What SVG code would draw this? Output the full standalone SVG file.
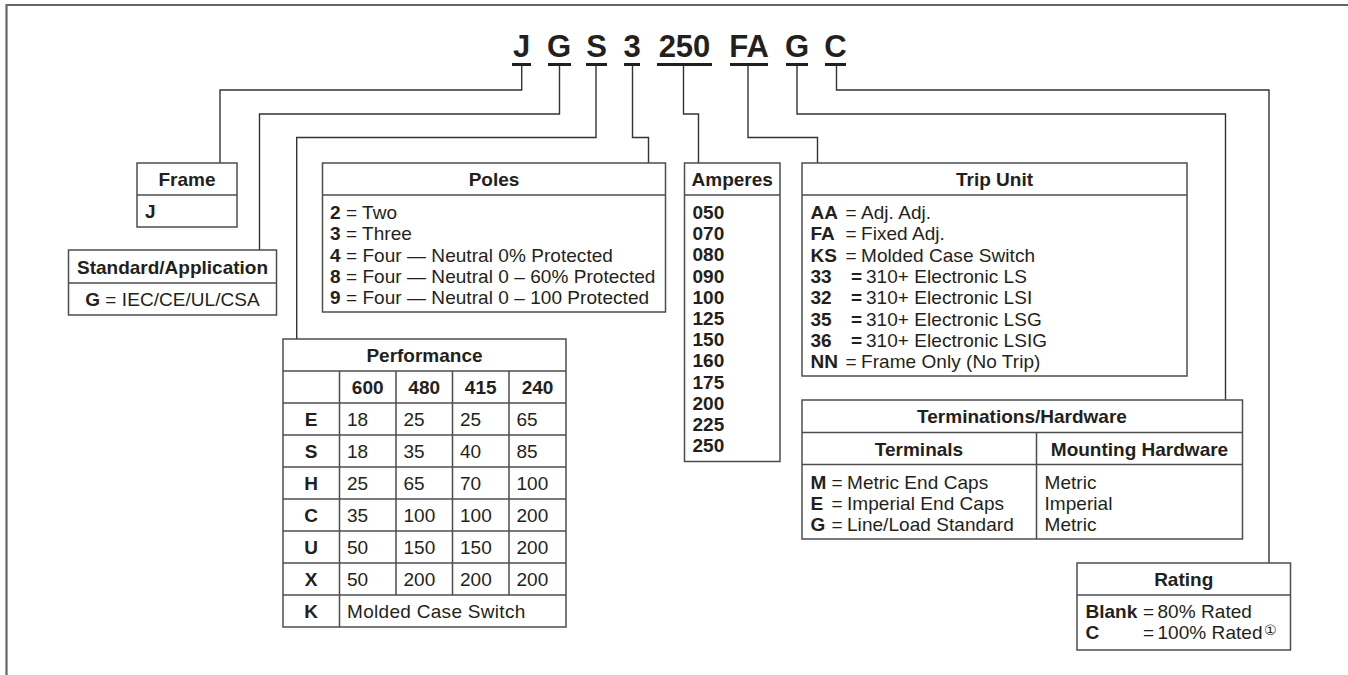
<svg xmlns="http://www.w3.org/2000/svg" width="1348" height="675" viewBox="0 0 1348 675">
<style>
.box{fill:#fff;stroke:#4d4d4d;stroke-width:1.5}
.dv{stroke:#4d4d4d;stroke-width:1.5;fill:none}
.con{stroke:#333;stroke-width:1.4;fill:none}
.h{font-family:"Liberation Sans",Arial,sans-serif;font-size:19px;font-weight:bold;fill:#231f20;text-anchor:middle}
.t{font-family:"Liberation Sans",Arial,sans-serif;font-size:19px;fill:#231f20;letter-spacing:0.05px}
.b{font-weight:bold;letter-spacing:0}
.c{text-anchor:middle}
.code{font-family:"Liberation Sans",Arial,sans-serif;font-size:31px;font-weight:bold;fill:#231f20;text-anchor:middle}
.ul{stroke:#231f20;stroke-width:3}
</style>
<path d="M6.5,675 V5 H1348" fill="none" stroke="#666" stroke-width="2.2"/>

<g id="code">
<text class="code" x="521.5" y="57">J</text>
<text class="code" x="559" y="57">G</text>
<text class="code" x="596.5" y="57">S</text>
<text class="code" x="632" y="57">3</text>
<text class="code" x="684.5" y="57">250</text>
<text class="code" x="749" y="57">FA</text>
<text class="code" x="797" y="57">G</text>
<text class="code" x="835.5" y="57">C</text>
<line class="ul" x1="512" y1="64.5" x2="531" y2="64.5"/>
<line class="ul" x1="548" y1="64.5" x2="571" y2="64.5"/>
<line class="ul" x1="586" y1="64.5" x2="607" y2="64.5"/>
<line class="ul" x1="624" y1="64.5" x2="640" y2="64.5"/>
<line class="ul" x1="657" y1="64.5" x2="712" y2="64.5"/>
<line class="ul" x1="730" y1="64.5" x2="768" y2="64.5"/>
<line class="ul" x1="786" y1="64.5" x2="808" y2="64.5"/>
<line class="ul" x1="825" y1="64.5" x2="846" y2="64.5"/>
</g>

<g id="connectors">
<path class="con" d="M521.7,66 V90 H220 V163"/>
<path class="con" d="M559.5,66 V114 H259.5 V250"/>
<path class="con" d="M596,66 V137.5 H296.7 V339"/>
<path class="con" d="M632.5,66 V137.5 H648.5 V163"/>
<path class="con" d="M683.5,66 V114 H698.5 V163"/>
<path class="con" d="M748,66 V137.5 H817.5 V163"/>
<path class="con" d="M797,66 V114 H1225.5 V400"/>
<path class="con" d="M836.5,66 V90 H1269 V563"/>
</g>

<g id="frame">
<rect class="box" x="137" y="163" width="100" height="64"/>
<line class="dv" x1="137" y1="195" x2="237" y2="195"/>
<text class="h" x="187" y="186">Frame</text>
<text class="t b" x="145" y="218">J</text>
</g>

<g id="standard">
<rect class="box" x="68.5" y="250" width="208" height="65"/>
<line class="dv" x1="68.5" y1="283" x2="276.5" y2="283"/>
<text class="h" x="172.5" y="273.5">Standard/Application</text>
<text class="t c" x="172.5" y="306"><tspan class="b">G</tspan> = IEC/CE/UL/CSA</text>
</g>

<g id="poles">
<rect class="box" x="322.5" y="163" width="343" height="149"/>
<line class="dv" x1="322.5" y1="195" x2="665.5" y2="195"/>
<text class="h" x="494" y="186">Poles</text>
<text class="t" x="330" y="219"><tspan class="b">2</tspan> = Two</text>
<text class="t" x="330" y="240.3"><tspan class="b">3</tspan> = Three</text>
<text class="t" x="330" y="261.6"><tspan class="b">4</tspan> = Four — Neutral 0% Protected</text>
<text class="t" x="330" y="282.9"><tspan class="b">8</tspan> = Four — Neutral 0 – 60% Protected</text>
<text class="t" x="330" y="304.2"><tspan class="b">9</tspan> = Four — Neutral 0 – 100 Protected</text>
</g>

<g id="amperes">
<rect class="box" x="684.5" y="163" width="95.5" height="298.5"/>
<line class="dv" x1="684.5" y1="195" x2="780" y2="195"/>
<text class="h" x="732.2" y="186">Amperes</text>
<g class="t b">
<text x="692.5" y="219">050</text>
<text x="692.5" y="240.2">070</text>
<text x="692.5" y="261.4">080</text>
<text x="692.5" y="282.6">090</text>
<text x="692.5" y="303.8">100</text>
<text x="692.5" y="325">125</text>
<text x="692.5" y="346.2">150</text>
<text x="692.5" y="367.4">160</text>
<text x="692.5" y="388.6">175</text>
<text x="692.5" y="409.8">200</text>
<text x="692.5" y="431">225</text>
<text x="692.5" y="452.2">250</text>
</g>
</g>

<g id="tripunit">
<rect class="box" x="802" y="163" width="385" height="213"/>
<line class="dv" x1="802" y1="195" x2="1187" y2="195"/>
<text class="h" x="994.5" y="186">Trip Unit</text>
<g class="t">
<text x="810.5" y="219"><tspan class="b">AA</tspan><tspan x="845.5">=</tspan><tspan x="861">Adj. Adj.</tspan></text>
<text x="810.5" y="240.3"><tspan class="b">FA</tspan><tspan x="845.5">=</tspan><tspan x="861">Fixed Adj.</tspan></text>
<text x="810.5" y="261.6"><tspan class="b">KS</tspan><tspan x="845.5">=</tspan><tspan x="861">Molded Case Switch</tspan></text>
<text x="810.5" y="282.9"><tspan class="b">33</tspan><tspan class="b" x="851">=</tspan><tspan x="866">310+ Electronic LS</tspan></text>
<text x="810.5" y="304.2"><tspan class="b">32</tspan><tspan class="b" x="851">=</tspan><tspan x="866">310+ Electronic LSI</tspan></text>
<text x="810.5" y="325.5"><tspan class="b">35</tspan><tspan class="b" x="851">=</tspan><tspan x="866">310+ Electronic LSG</tspan></text>
<text x="810.5" y="346.8"><tspan class="b">36</tspan><tspan class="b" x="851">=</tspan><tspan x="866">310+ Electronic LSIG</tspan></text>
<text x="810.5" y="368.1"><tspan class="b">NN</tspan><tspan x="845.5">=</tspan><tspan x="861">Frame Only (No Trip)</tspan></text>
</g>
</g>

<g id="performance">
<rect class="box" x="283" y="339" width="283" height="288"/>
<path class="dv" d="M283,371 H566 M283,403 H566 M283,435 H566 M283,467 H566 M283,499 H566 M283,531 H566 M283,563 H566 M283,595 H566 M339.5,371 V627 M396,371 V595 M452.5,371 V595 M509,371 V595"/>
<text class="h" x="424.5" y="362">Performance</text>
<text class="h" x="367.7" y="394">600</text>
<text class="h" x="424.2" y="394">480</text>
<text class="h" x="480.7" y="394">415</text>
<text class="h" x="537.5" y="394">240</text>
<g class="h">
<text x="311" y="426">E</text>
<text x="311" y="458">S</text>
<text x="311" y="490">H</text>
<text x="311" y="522">C</text>
<text x="311" y="554">U</text>
<text x="311" y="586">X</text>
<text x="311" y="618">K</text>
</g>
<g class="t">
<text x="347" y="426">18</text><text x="403.5" y="426">25</text><text x="460" y="426">25</text><text x="516.5" y="426">65</text>
<text x="347" y="458">18</text><text x="403.5" y="458">35</text><text x="460" y="458">40</text><text x="516.5" y="458">85</text>
<text x="347" y="490">25</text><text x="403.5" y="490">65</text><text x="460" y="490">70</text><text x="516.5" y="490">100</text>
<text x="347" y="522">35</text><text x="403.5" y="522">100</text><text x="460" y="522">100</text><text x="516.5" y="522">200</text>
<text x="347" y="554">50</text><text x="403.5" y="554">150</text><text x="460" y="554">150</text><text x="516.5" y="554">200</text>
<text x="347" y="586">50</text><text x="403.5" y="586">200</text><text x="460" y="586">200</text><text x="516.5" y="586">200</text>
<text x="347" y="618" style="letter-spacing:0.3px">Molded Case Switch</text>
</g>
</g>

<g id="terminations">
<rect class="box" x="802" y="400" width="440.5" height="139"/>
<path class="dv" d="M802,432.5 H1242.5 M802,464.5 H1242.5 M1036.5,432.5 V539"/>
<text class="h" x="1022" y="423">Terminations/Hardware</text>
<text class="h" x="919" y="455.5">Terminals</text>
<text class="h" x="1139.5" y="455.5">Mounting Hardware</text>
<g class="t">
<text x="810.5" y="489"><tspan class="b">M</tspan><tspan x="831.5">=</tspan><tspan x="847">Metric End Caps</tspan></text>
<text x="810.5" y="510"><tspan class="b">E</tspan><tspan x="831.5">=</tspan><tspan x="847">Imperial End Caps</tspan></text>
<text x="810.5" y="531"><tspan class="b">G</tspan><tspan x="831.5">=</tspan><tspan x="847">Line/Load Standard</tspan></text>
<text x="1044.5" y="489">Metric</text>
<text x="1044.5" y="510">Imperial</text>
<text x="1044.5" y="531">Metric</text>
</g>
</g>

<g id="rating">
<rect class="box" x="1077" y="563" width="213.5" height="87"/>
<line class="dv" x1="1077" y1="595" x2="1290.5" y2="595"/>
<text class="h" x="1183.7" y="586">Rating</text>
<g class="t">
<text x="1085.5" y="618"><tspan class="b">Blank</tspan><tspan x="1143">=</tspan><tspan x="1157.5">80% Rated</tspan></text>
<text x="1085.5" y="639"><tspan class="b">C</tspan><tspan x="1143">=</tspan><tspan x="1157.5">100% Rated</tspan></text>
<text x="1264" y="635" style="font-family:'DejaVu Sans',sans-serif;font-size:14px;letter-spacing:0">①</text>
</g>
</g>
</svg>
